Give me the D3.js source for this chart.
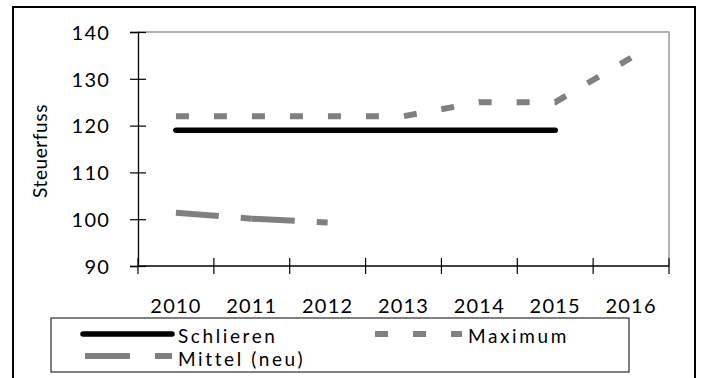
<!DOCTYPE html>
<html>
<head>
<meta charset="utf-8">
<script src="https://cdn.jsdelivr.net/npm/d3@7"></script>
<style>
  html, body { margin: 0; padding: 0; background: #fff; }
  svg { display: block; }
  text { font-family: Lato, "Open Sans", sans-serif; fill: #000; }
</style>
</head>
<body>
<svg id="chart" width="701" height="378"></svg>
<script>
// Tax rate (Steuerfuss) by year
const years = ["2010", "2011", "2012", "2013", "2014", "2015", "2016"];
const schlieren = [119, 119, 119, 119, 119, 119, null];
const maximum = [122, 122, 122, 122, 125, 125, 134.5];
const mittelNeu = [101.4, 100.1, 99.3, null, null, null, null];
const yTicks = [90, 100, 110, 120, 130, 140];

const svg = d3.select("#chart");
const FONT = "Lato, 'Open Sans', sans-serif";

const plot = { left: 138, right: 669, top: 32, bottom: 266 };

const x = d3.scaleBand().domain(years).range([plot.left, plot.right]);
const y = d3.scaleLinear().domain([90, 140]).range([plot.bottom, plot.top]);
const cx = d => x(d) + x.bandwidth() / 2;

// outer frame (runs past the bottom edge)
svg.append("rect")
  .attr("x", 13).attr("y", 7).attr("width", 682).attr("height", 420)
  .attr("fill", "#fff").attr("stroke", "#000").attr("stroke-width", 2);

// plot area: grey top and right edges
svg.append("path")
  .attr("d", `M${plot.left},${plot.top}H${plot.right}V${plot.bottom}`)
  .attr("fill", "none").attr("stroke", "#999").attr("stroke-width", 1.5);

// y axis
const yAxis = svg.append("g")
  .attr("transform", `translate(${plot.left},0)`)
  .call(d3.axisLeft(y).tickValues(yTicks).tickSize(8).tickPadding(28));
yAxis.select(".domain").attr("stroke", "#000").attr("stroke-width", 1.3);
yAxis.selectAll(".tick line").attr("x1", -8).attr("x2", 8).attr("stroke", "#000").attr("stroke-width", 1.2);
yAxis.selectAll(".tick text")
  .style("font-family", FONT)
  .attr("x", -28).attr("text-anchor", "end")
  .attr("font-size", 20).attr("letter-spacing", 1.2).attr("dy", "0.36em");

// x axis: labels at category centres, ticks at category boundaries
const xAxis = svg.append("g")
  .attr("transform", `translate(0,${plot.bottom})`)
  .call(d3.axisBottom(x).tickSize(0).tickPadding(0));
xAxis.select(".domain").remove();
xAxis.selectAll(".tick text")
  .style("font-family", FONT)
  .attr("font-size", 20).attr("letter-spacing", 1.2)
  .attr("y", 47).attr("dy", 0);
svg.append("line")
  .attr("x1", plot.left).attr("x2", plot.right)
  .attr("y1", plot.bottom).attr("y2", plot.bottom)
  .attr("stroke", "#000").attr("stroke-width", 1.3);
const bounds = years.map(d => x(d)).concat([plot.right]);
svg.append("g").selectAll("line").data(bounds).join("line")
  .attr("x1", d => d).attr("x2", d => d)
  .attr("y1", plot.bottom - 8).attr("y2", plot.bottom + 8)
  .attr("stroke", "#000").attr("stroke-width", 1.2);

// y axis title
svg.append("text")
  .attr("transform", `translate(47,${(plot.top + plot.bottom) / 2 + 2}) rotate(-90)`)
  .attr("text-anchor", "middle")
  .attr("font-size", 19).attr("letter-spacing", 0.6)
  .text("Steuerfuss");

const line = d3.line()
  .defined(d => d.v != null)
  .x(d => cx(d.year)).y(d => y(d.v));
const pts = arr => years.map((year, i) => ({ year, v: arr[i] }));

// Maximum: grey short dashes
svg.append("path")
  .attr("d", line(pts(maximum)))
  .attr("fill", "none").attr("stroke", "#808080").attr("stroke-width", 6)
  .attr("stroke-dasharray", "13,25");

// Mittel (neu): grey long-dash pattern, restarting at each point
const mPts = pts(mittelNeu).filter(d => d.v != null);
const mSegs = d3.pairs(mPts);
svg.append("g").selectAll("path").data(mSegs).join("path")
  .attr("d", d => line(d))
  .attr("fill", "none").attr("stroke", "#808080").attr("stroke-width", 6)
  .attr("stroke-dasharray", "43,22,13,22");

// Schlieren: solid black
svg.append("path")
  .attr("d", line(pts(schlieren)))
  .attr("fill", "none").attr("stroke", "#000").attr("stroke-width", 5.5)
  .attr("stroke-linecap", "round");

// legend
const lg = svg.append("g");
lg.append("rect")
  .attr("x", 51).attr("y", 318).attr("width", 578).attr("height", 54)
  .attr("fill", "#fff").attr("stroke", "#000").attr("stroke-width", 1);

const legendItems = [
  { name: "Schlieren", x0: 83, x1: 172, yl: 334, ty: 343, stroke: "#000", w: 5.5, dash: null, cap: "round" },
  { name: "Maximum", x0: 375, x1: 462, yl: 334, ty: 343, stroke: "#808080", w: 6, dash: "13,25", cap: "butt" },
  { name: "Mittel (neu)", x0: 85, x1: 172, yl: 356, ty: 366, stroke: "#808080", w: 6, dash: "45,25,17,25", cap: "butt" }
];
legendItems.forEach(it => {
  lg.append("line")
    .attr("x1", it.x0).attr("x2", it.x1).attr("y1", it.yl).attr("y2", it.yl)
    .attr("stroke", it.stroke).attr("stroke-width", it.w)
    .attr("stroke-linecap", it.cap)
    .attr("stroke-dasharray", it.dash);
  lg.append("text")
    .attr("x", it.x1 + 6).attr("y", it.ty)
    .attr("font-size", 19).attr("letter-spacing", 2.6)
    .text(it.name);
});
</script>
</body>
</html>
